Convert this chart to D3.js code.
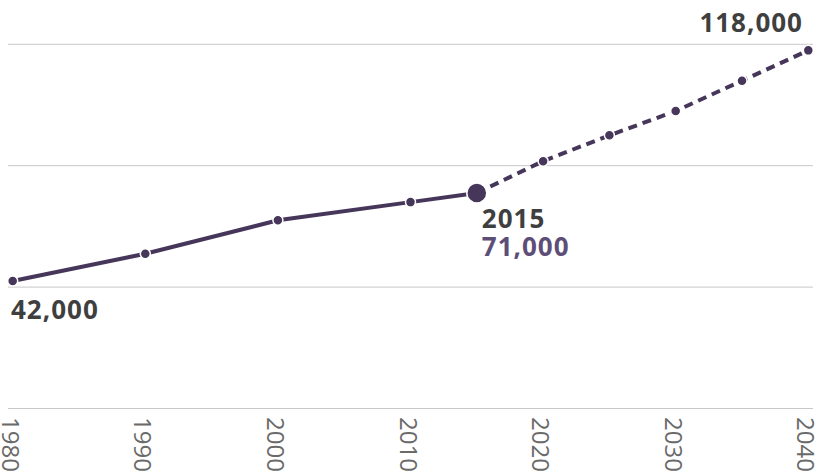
<!DOCTYPE html>
<html>
<head>
<meta charset="utf-8">
<script src="https://cdn.jsdelivr.net/npm/d3@7"></script>
<style>
  body { margin: 0; background: #fff; }
  svg { display: block; font-family: "Open Sans", sans-serif; }
</style>
</head>
<body>
<div id="chart"></div>
<script>
// Historical values and projection (people)
const histYears = [1980, 1990, 2000, 2010, 2015];
const histValues = [42000, 51000, 62000, 68000, 71000];
const projYears = [2015, 2020, 2025, 2030, 2035, 2040];
const projValues = [71000, 81500, 90000, 98000, 108000, 118000];
const xTicks = [1980, 1990, 2000, 2010, 2020, 2030, 2040];
const yTicks = [0, 40000, 80000, 120000];

const width = 817, height = 474;
const lineColor = '#45365a';

const svg = d3.select('#chart')
    .append('svg')
    .attr('width', width)
    .attr('height', height);

const x = d3.scaleLinear().domain([1980, 2040]).range([12.7, 808.3]);
const y = d3.scaleLinear().domain([0, 120000]).range([408.5, 44.3]);

// gridlines
svg.selectAll('.grid')
    .data(yTicks)
    .enter()
    .append('line')
    .attr('x1', 8)
    .attr('x2', 813)
    .attr('y1', d => y(d))
    .attr('y2', d => y(d))
    .attr('stroke', '#c8c8c8')
    .attr('stroke-width', 1);

// year labels, rotated
svg.selectAll('.xlab')
    .data(xTicks)
    .enter()
    .append('text')
    .attr('transform', d => `translate(${x(d) - 1.5},417) rotate(90)`)
    .attr('dominant-baseline', 'central')
    .attr('font-size', 24)
    .attr('fill', '#6a6a6a')
    .text(d => d);

const hist = histYears.map((d, i) => ({ year: d, value: histValues[i] }));
const proj = projYears.map((d, i) => ({ year: d, value: projValues[i] }));

const line = d3.line().x(d => x(d.year)).y(d => y(d.value));

svg.append('path')
    .datum(proj)
    .attr('d', line)
    .attr('fill', 'none')
    .attr('stroke', lineColor)
    .attr('stroke-width', 4)
    .attr('stroke-dasharray', '9,6');

svg.append('path')
    .datum(hist)
    .attr('d', line)
    .attr('fill', 'none')
    .attr('stroke', lineColor)
    .attr('stroke-width', 4);

// dots
const dots = hist.concat(proj.slice(1));
svg.selectAll('.dot')
    .data(dots)
    .enter()
    .append('circle')
    .attr('cx', d => x(d.year))
    .attr('cy', d => y(d.value))
    .attr('r', d => d.year === 2015 ? 10 : 5)
    .attr('fill', lineColor)
    .attr('stroke', '#fff')
    .attr('stroke-width', 1.5);

// annotations
const first = hist[0];
const last = proj[proj.length - 1];
const current = hist[hist.length - 1];
const fmt = d3.format(',');

function label(xPos, yPos, txt, color, anchor) {
    svg.append('text')
        .attr('x', xPos)
        .attr('y', yPos)
        .attr('text-anchor', anchor || 'start')
        .attr('font-size', 26)
        .attr('font-weight', 700)
        .attr('letter-spacing', 1)
        .attr('fill', color)
        .text(txt);
}

label(11, y(first.value) + 38, fmt(first.value), '#3f3f3f');
label(x(current.year) + 5, y(current.value) + 35, current.year, '#3f3f3f');
label(x(current.year) + 5, y(current.value) + 63, fmt(current.value), '#5d4e78');
label(803, y(last.value) - 18, fmt(last.value), '#3f3f3f', 'end');
</script>
</body>
</html>
